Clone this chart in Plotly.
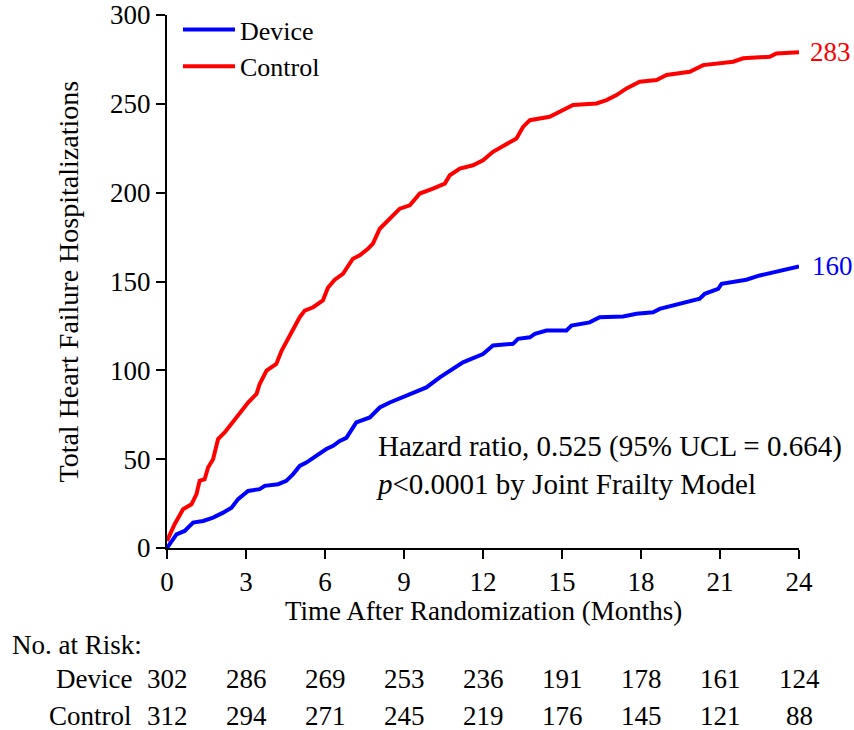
import plotly.graph_objects as go

# ---------------- data ----------------
control_months = [0.0, 0.29, 0.61, 0.93, 1.12, 1.24, 1.43, 1.56, 1.75, 1.94, 2.19, 2.45, 2.76,
                  3.08, 3.40, 3.52, 3.78, 4.15, 4.35, 4.53, 4.79, 5.04, 5.23, 5.55, 5.92, 6.11,
                  6.37, 6.68, 7.06, 7.32, 7.63, 7.82, 8.08, 8.46, 8.84, 9.22, 9.60, 10.1, 10.55,
                  10.74, 11.12, 11.62, 12.0, 12.38, 12.89, 13.27, 13.52, 13.78, 14.53, 14.91,
                  15.42, 16.31, 16.69, 17.07, 17.45, 17.95, 18.59, 18.97, 19.85, 20.36, 21.5,
                  21.88, 22.89, 23.14, 24.0]
control_values = [4, 13.4, 21.8, 24.6, 30.3, 37.8, 38.7, 45.3, 50, 61.3, 65, 69.8, 75.4,
                  81.9, 86.7, 92.3, 99.8, 103.6, 111, 115.8, 123.3, 129.9, 133.6, 135.5, 139.3, 146.5,
                  151, 154.3, 162.8, 164.7, 168.4, 171.3, 179.7, 185.4, 191, 192.9, 199.5, 202.3, 205.1,
                  209.8, 213.6, 215.4, 218.2, 223, 227.6, 230.5, 237, 240.8, 242.7, 245.5,
                  249.3, 250.2, 252.1, 254.9, 258.7, 262.4, 263.4, 266.2, 268.0, 271.8, 273.7,
                  275.6, 276.5, 278.4, 279]

device_months = [0.0, 0.17, 0.36, 0.67, 0.99, 1.37, 1.75, 2.13, 2.45, 2.70, 3.08, 3.52, 3.71,
                 4.22, 4.53, 4.79, 5.04, 5.29, 5.55, 5.80, 6.05, 6.31, 6.56, 6.81, 7.19, 7.70,
                 8.08, 8.46, 9.22, 9.85, 10.36, 10.74, 11.24, 12.0, 12.38, 13.14, 13.33, 13.78,
                 13.97, 14.41, 15.17, 15.36, 16.05, 16.43, 17.32, 17.83, 18.46, 18.71, 19.22,
                 19.85, 20.23, 20.42, 20.93, 21.06, 21.5, 22.0, 22.51, 23.02, 23.52, 24.0]
device_values = [0, 3.9, 7.7, 9.6, 14.3, 15.2, 17.1, 19.9, 22.7, 27.5, 32.1, 33.1, 35,
                 35.9, 37.8, 41.6, 46.2, 48.1, 50.9, 53.7, 55.7, 57.5, 60.3, 62, 70.7, 73.5,
                 79.1, 81.9, 86.7, 90.4, 96, 99.8, 104.5, 109.2, 114, 114.9, 117.7, 118.6,
                 120.5, 122.4, 122.4, 125.2, 127, 129.9, 130.3, 131.8, 132.7, 134.6, 136.5,
                 139.3, 140.3, 143.1, 145.9, 148.7, 149.6, 151, 153.4, 155.2, 157.2, 158.5]

end_labels = {"Device": "160", "Control": "283"}

x_ticks = [0, 3, 6, 9, 12, 15, 18, 21, 24]
y_ticks = [0, 50, 100, 150, 200, 250, 300]
risk_device = [302, 286, 269, 253, 236, 191, 178, 161, 124]
risk_control = [312, 294, 271, 245, 219, 176, 145, 121, 88]

hazard_text = "Hazard ratio, 0.525 (95% UCL = 0.664)<br><i>p</i>&lt;0.0001 by Joint Frailty Model"

FONT = "Liberation Serif, Times New Roman, serif"
FS = 27
BLUE = "#0000FF"
RED = "#FF0000"

fig = go.Figure()
fig.add_trace(go.Scatter(x=device_months, y=device_values, mode="lines", name="Device",
                         line=dict(color=BLUE, width=4)))
fig.add_trace(go.Scatter(x=control_months, y=control_values, mode="lines", name="Control",
                         line=dict(color=RED, width=4)))

ann = []
# end labels
ann.append(dict(x=device_months[-1], y=device_values[-1], xref="x", yref="y",
                text=end_labels["Device"], showarrow=False, xanchor="left", yanchor="middle",
                xshift=11, font=dict(family=FONT, size=FS, color=BLUE)))
ann.append(dict(x=control_months[-1], y=control_values[-1], xref="x", yref="y",
                text=end_labels["Control"], showarrow=False, xanchor="left", yanchor="middle",
                xshift=9, font=dict(family=FONT, size=FS, color=RED)))
# hazard text
ann.append(dict(x=0.3275, y=0.155, xref="paper", yref="paper", text=hazard_text,
                showarrow=False, xanchor="left", yanchor="middle", align="left",
                font=dict(family=FONT, size=29, color="black")))
# axis titles
ann.append(dict(x=0, y=0.5, xref="paper", yref="paper", xshift=-99,
                text="Total Heart Failure Hospitalizations", textangle=-90, showarrow=False,
                xanchor="center", yanchor="middle", font=dict(family=FONT, size=28, color="black")))
ann.append(dict(x=0.5, y=0, xref="paper", yref="paper", yshift=-63,
                text="Time After Randomization (Months)", showarrow=False,
                xanchor="center", yanchor="middle", font=dict(family=FONT, size=FS, color="black")))
# number at risk table
ann.append(dict(x=0, y=0, xref="paper", yref="paper", xshift=-157, yshift=-97,
                text="No. at Risk:", showarrow=False, xanchor="left", yanchor="middle",
                font=dict(family=FONT, size=FS, color="black")))
for label, row, ys in [("Device", risk_device, -131), ("Control", risk_control, -168)]:
    ann.append(dict(x=0, y=0, xref="paper", yref="paper", xshift=-33, yshift=ys,
                    text=label, showarrow=False, xanchor="right", yanchor="middle",
                    font=dict(family=FONT, size=FS, color="black")))
    for xv, n in zip(x_ticks, row):
        ann.append(dict(x=xv, y=0, xref="x", yref="paper", yshift=ys,
                        text=str(n), showarrow=False, xanchor="center", yanchor="middle",
                        font=dict(family=FONT, size=FS, color="black")))

fig.update_layout(
    width=854, height=730, autosize=False,
    margin=dict(l=167, r=55, t=15, b=182, autoexpand=False),
    paper_bgcolor="white", plot_bgcolor="white",
    font=dict(family=FONT, size=FS, color="black"),
    showlegend=True,
    legend=dict(x=0.0174, y=1.0169, xanchor="left", yanchor="top", bgcolor="rgba(0,0,0,0)",
                font=dict(family=FONT, size=26, color="black"), itemwidth=52,
                tracegroupgap=0),
    annotations=ann,
    xaxis=dict(range=[0, 24], tickvals=x_ticks, ticktext=[str(v) for v in x_ticks],
               ticks="outside", ticklen=9, tickwidth=2, tickcolor="black",
               showline=True, linewidth=2, linecolor="black", showgrid=False, zeroline=False,
               tickfont=dict(family=FONT, size=FS, color="black")),
    yaxis=dict(range=[0, 300], tickvals=y_ticks, ticktext=[str(v) for v in y_ticks],
               ticks="outside", ticklen=9, tickwidth=2, tickcolor="black",
               showline=True, linewidth=2, linecolor="black", showgrid=False, zeroline=False,
               tickfont=dict(family=FONT, size=FS, color="black")),
)

# remove the page's default 8px body margin so the figure fills the window exactly
fig.write_html("out.html",
               config={"displayModeBar": False},
               post_script="document.body.style.margin='0';"
                           "document.documentElement.style.overflow='hidden';")
